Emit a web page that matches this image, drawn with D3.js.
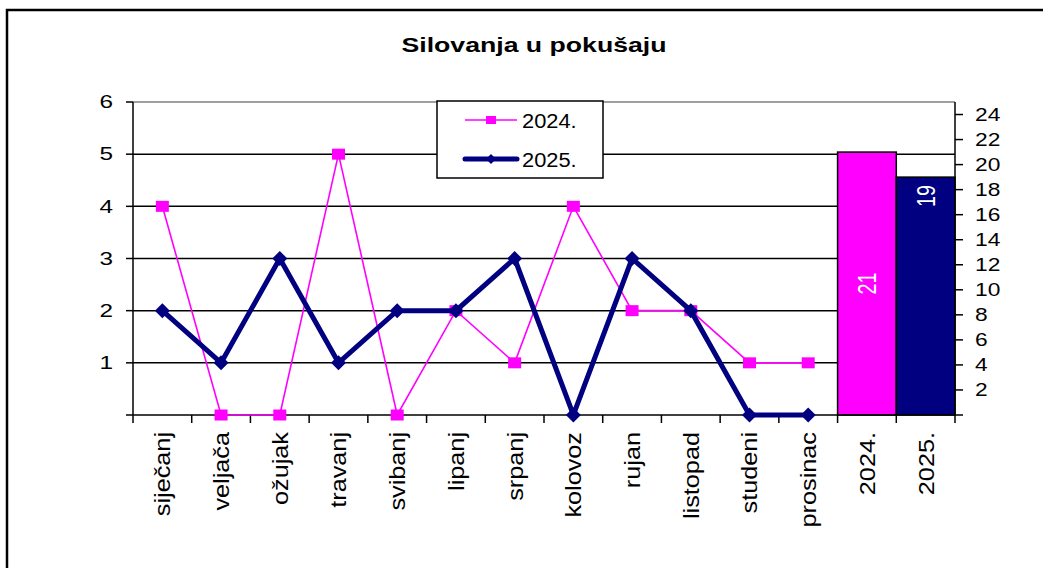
<!DOCTYPE html>
<html>
<head>
<meta charset="utf-8">
<script src="https://cdn.jsdelivr.net/npm/d3@7"></script>
<style>
  body { margin: 0; background: #fff; }
  text { font-family: "Liberation Sans", Arial, sans-serif; fill: #000; }
</style>
</head>
<body>
<svg id="chart"></svg>
<script>
// data
var months = ["siječanj", "veljača", "ožujak", "travanj", "svibanj", "lipanj", "srpanj",
              "kolovoz", "rujan", "listopad", "studeni", "prosinac"];
var years = ["2024.", "2025."];
var values2024 = [4, 0, 0, 5, 0, 2, 1, 4, 2, 2, 1, 1];
var values2025 = [2, 1, 3, 1, 2, 2, 3, 0, 3, 2, 0, 0];
var totals = [21, 19];
var leftTicks = [0, 1, 2, 3, 4, 5, 6];
var rightTicks = [0, 2, 4, 6, 8, 10, 12, 14, 16, 18, 20, 22, 24];

var W = 1043, H = 568;
var plot = {left: 133, right: 955, top: 102, bottom: 415};
var magenta = "#ff00ff", navy = "#000080";

var svg = d3.select("#chart").attr("width", W).attr("height", H);

// outer frame (runs off the right and bottom edge)
svg.append("rect")
  .attr("x", 7).attr("y", 10)
  .attr("width", W + 20).attr("height", H + 20)
  .attr("fill", "none").attr("stroke", "#000").attr("stroke-width", 2.5);

// title
svg.append("text")
  .text("Silovanja u pokušaju")
  .attr("x", 534).attr("y", 52)
  .attr("text-anchor", "middle")
  .attr("font-size", 20.5).attr("font-weight", "bold")
  .attr("textLength", 265).attr("lengthAdjust", "spacingAndGlyphs");

// scales
var cats = months.concat(years);
var x = d3.scaleBand().domain(cats).range([plot.left, plot.right]).padding(0);
var yL = d3.scaleLinear().domain([0, 6]).range([plot.bottom, plot.top]);
var yR = d3.scaleLinear().domain([0, 25]).range([plot.bottom, plot.top]);

//stretched text helper: sAlong = along text direction, sAcross = across it
function label(g, str, tx, ty, rot, sAlong, sAcross, size, anchor, color) {
  var t = g.append("g")
    .attr("transform", "translate(" + tx + "," + ty + ") rotate(" + rot + ") scale(" + sAlong + "," + sAcross + ")");
  return t.append("text")
    .text(str)
    .attr("text-anchor", anchor)
    .attr("dy", "0.35em")
    .attr("font-size", size)
    .style("fill", color || "#000");
}

// gridlines
svg.append("g").selectAll("line")
  .data(leftTicks.filter(function(d) { return d > 0 && d < 6; }))
  .enter().append("line")
  .attr("x1", plot.left).attr("x2", plot.right)
  .attr("y1", function(d) { return yL(d); })
  .attr("y2", function(d) { return yL(d); })
  .attr("stroke", "#000").attr("stroke-width", 1.5);

// top border of plot area
svg.append("line")
  .attr("x1", plot.left).attr("x2", plot.right)
  .attr("y1", plot.top).attr("y2", plot.top)
  .attr("stroke", "#808080").attr("stroke-width", 1.5);

// total bars on the right axis
var bars = svg.append("g");
bars.selectAll("rect")
  .data(totals)
  .enter().append("rect")
  .attr("x", function(d, i) { return x(years[i]); })
  .attr("y", function(d) { return yR(d); })
  .attr("width", x.bandwidth())
  .attr("height", function(d) { return yR(0) - yR(d); })
  .attr("fill", function(d, i) { return i == 0 ? magenta : navy; })
  .attr("stroke", "#000").attr("stroke-width", 1.5);

// bar labels: first one centred, second one at inside end
totals.forEach(function(d, i) {
  var cx = x(years[i]) + x.bandwidth() / 2;
  var cy = i == 0 ? (yR(d) + yR(0)) / 2 : yR(d) + 19;
  label(bars, d, cx, cy, -90, 1.1, 1.45, 18, "middle", "#fff");
});

// axes
var axes = svg.append("g").attr("stroke", "#000").attr("stroke-width", 1.5);
axes.append("line").attr("x1", plot.left).attr("x2", plot.left).attr("y1", plot.top).attr("y2", plot.bottom);
axes.append("line").attr("x1", plot.right).attr("x2", plot.right).attr("y1", plot.top).attr("y2", plot.bottom);
axes.append("line").attr("x1", plot.left).attr("x2", plot.right).attr("y1", plot.bottom).attr("y2", plot.bottom);

axes.selectAll("line.tl").data(leftTicks).enter().append("line").attr("class", "tl")
  .attr("x1", plot.left - 7).attr("x2", plot.left)
  .attr("y1", function(d) { return yL(d); }).attr("y2", function(d) { return yL(d); });
axes.selectAll("line.tr").data(rightTicks).enter().append("line").attr("class", "tr")
  .attr("x1", plot.right).attr("x2", plot.right + 8)
  .attr("y1", function(d) { return yR(d); }).attr("y2", function(d) { return yR(d); });
axes.selectAll("line.tb").data(d3.range(cats.length + 1)).enter().append("line").attr("class", "tb")
  .attr("x1", function(i) { return plot.left + i * x.step(); })
  .attr("x2", function(i) { return plot.left + i * x.step(); })
  .attr("y1", plot.bottom).attr("y2", plot.bottom + 8);

var labels = svg.append("g");
leftTicks.filter(function(d) { return d > 0; }).forEach(function(d) {
  label(labels, d, 113, yL(d), 0, 1.35, 1, 18, "end");
});
rightTicks.filter(function(d) { return d > 0; }).forEach(function(d) {
  label(labels, d, 975, yR(d), 0, 1.3, 1, 17.5, "start");
});
cats.forEach(function(c) {
  label(labels, c, x(c) + x.bandwidth() / 2, 432, -90, 1.33, 1.2, 19, "end");
});

// lines
var line = d3.line()
  .x(function(d, i) { return x(months[i]) + x.bandwidth() / 2; })
  .y(function(d) { return yL(d); });

svg.append("path").datum(values2024)
  .attr("d", line).attr("fill", "none")
  .attr("stroke", magenta).attr("stroke-width", 1.6);
svg.append("g").selectAll("rect")
  .data(values2024).enter().append("rect")
  .attr("x", function(d, i) { return x(months[i]) + x.bandwidth() / 2 - 6.5; })
  .attr("y", function(d) { return yL(d) - 5.5; })
  .attr("width", 13).attr("height", 11)
  .attr("fill", magenta);

svg.append("path").datum(values2025)
  .attr("d", line).attr("fill", "none")
  .attr("stroke", navy).attr("stroke-width", 5).attr("stroke-linejoin", "miter");
svg.append("g").selectAll("path")
  .data(values2025).enter().append("path")
  .attr("d", function(d, i) {
    var cx = x(months[i]) + x.bandwidth() / 2, cy = yL(d);
    return "M" + (cx - 7.5) + "," + cy + "L" + cx + "," + (cy - 7.5) + "L" + (cx + 7.5) + "," + cy + "L" + cx + "," + (cy + 7.5) + "Z";
  })
  .attr("fill", navy);

// legend
var legend = svg.append("g");
legend.append("rect")
  .attr("x", 437).attr("y", 101).attr("width", 166).attr("height", 77)
  .attr("fill", "#fff").attr("stroke", "#000").attr("stroke-width", 1.5);
legend.append("line").attr("x1", 465).attr("x2", 517).attr("y1", 120).attr("y2", 120)
  .attr("stroke", magenta).attr("stroke-width", 1.6);
legend.append("rect").attr("x", 486).attr("y", 116).attr("width", 10).attr("height", 8).attr("fill", magenta);
label(legend, years[0], 522, 121, 0, 1.15, 1.05, 19, "start");
legend.append("line").attr("x1", 465).attr("x2", 517).attr("y1", 159).attr("y2", 159)
  .attr("stroke", navy).attr("stroke-width", 5).attr("stroke-linecap", "round");
legend.append("path").attr("d", "M486,159L491,154L496,159L491,164Z").attr("fill", navy);
label(legend, years[1], 522, 160, 0, 1.15, 1.05, 19, "start");
</script>
</body>
</html>
